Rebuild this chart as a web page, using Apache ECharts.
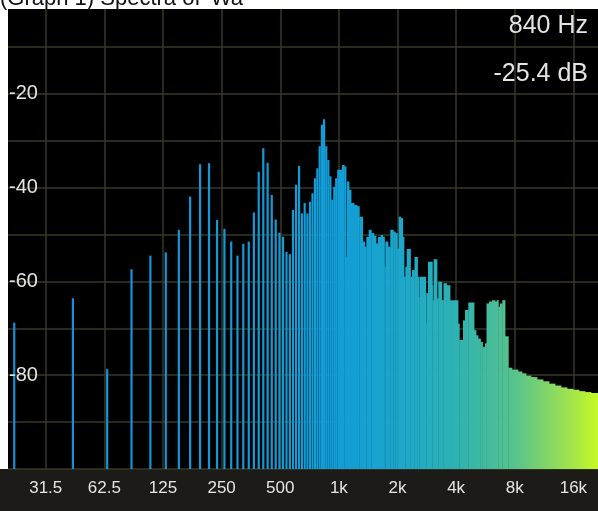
<!DOCTYPE html>
<html>
<head>
<meta charset="utf-8">
<script src="https://cdn.jsdelivr.net/npm/echarts@6/dist/echarts.min.js"></script>
<style>
  html, body { margin: 0; padding: 0; background: #ffffff; }
  #chart { width: 598px; height: 511px; }
</style>
</head>
<body>
<div id="chart"></div>
<script>
// FFT resolution: 44.1 kHz sample rate, 2048-point transform
const BIN_HZ = 44100 / 2048;

// Level of each low-frequency bin (bin 1, 2, 3, ...), in dB
const binLevels = [
  -68.8, -63.6, -78.7, -57.4, -54.5, -53.8, -49.0, -41.9, -35.0, -34.8,
  -46.9, -48.8, -51.5, -54.5, -52.0, -51.5, -45.3, -36.6, -31.6, -34.7,
  -41.6, -46.8, -49.6, -50.5, -53.7, -54.2, -44.8, -39.4, -35.4, -45.5,
  -43.3, -45.5, -43.0, -41.2, -38.0, -35.9, -31.2, -26.6, -25.4, -31.2,
  -34.1, -37.6, -42.6, -39.8, -38.0
];

// Above ~1 kHz the bins merge into a continuous band:
// band edges in Hz and the level of each band in dB
const bandEdgesHz = [
  980, 1037, 1066, 1088, 1098, 1127, 1154, 1196, 1239, 1273,
  1325, 1357, 1383, 1422, 1467, 1514, 1551, 1588, 1639, 1678,
  1714, 1731, 1787, 1836, 1902, 1948, 1995, 2028, 2077, 2126,
  2159, 2193, 2229, 2331, 2373, 2444, 2533, 2587, 2609, 2791,
  2810, 2868, 3017, 3042, 3067, 3189, 3239, 3372, 3444, 3577,
  3720, 4088, 4152, 4338, 4441, 4618, 4940, 5058, 5179, 5334,
  5462, 5626, 5727, 5898, 6111, 6332, 6460, 6584, 6718, 6903,
  7127, 7410, 7741, 8310, 8712, 9134, 9691, 10400, 11170, 11990,
  12870, 13820, 14830, 15920, 17090, 18350, 19700, 21400
];
const bandLevels = [
  -36.2, -35.2, -35.5, -54.7, -38.7, -40.5, -43.3, -43.7, -44.0, -46.2,
  -51.5, -52.6, -50.5, -49.0, -49.7, -50.3, -51.9, -50.5, -50.1, -50.5,
  -56.9, -51.5, -52.6, -49.0, -49.4, -49.7, -53.0, -46.2, -46.5, -50.5,
  -59.0, -56.9, -53.1, -59.0, -57.6, -54.8, -59.0, -63.3, -59.0, -68.9,
  -62.5, -55.8, -60.8, -64.0, -55.3, -63.6, -60.1, -64.0, -60.4, -60.8,
  -64.0, -69.0, -72.5, -68.3, -66.1, -64.5, -70.4, -71.5, -72.2, -72.9,
  -74.0, -73.2, -64.7, -64.3, -64.0, -64.3, -64.0, -65.4, -64.7, -64.0,
  -71.7, -78.4, -78.8, -79.2, -79.6, -80.1, -80.4, -80.9, -81.3, -81.8,
  -82.2, -82.6, -82.9, -83.1, -83.4, -83.6, -83.8
];

// Octave grid of the frequency axis
const octaveHz = [31.25, 62.5, 125, 250, 500, 1000, 2000, 4000, 8000, 16000];
const octaveLabels = ['31.5', '62.5', '125', '250', '500', '1k', '2k', '4k', '8k', '16k'];

const FREQ_MIN = 20, FREQ_MAX = 21400;
const DB_MIN = -100, DB_MAX = 0;
const titleText = "(Graph 1) Spectra of 'Wa'";

const GRID_COLOR = '#3a3726';
const TEXT_COLOR = '#e4e4e4';
const FONT = '"Liberation Sans", Arial, Helvetica, sans-serif';

// Colour ramp of the analyser, laid across the whole frequency range
const rampStops = [
  { offset: 0.00, color: '#168fd4' },
  { offset: 0.56, color: '#129dd6' },
  { offset: 0.66, color: '#1ba6cc' },
  { offset: 0.76, color: '#2eb2b2' },
  { offset: 0.86, color: '#58c38c' },
  { offset: 0.96, color: '#a6e648' },
  { offset: 1.00, color: '#c6fa22' }
];

function rampFill(api) {
  const x0 = api.coord([FREQ_MIN, DB_MIN])[0];
  const x1 = api.coord([FREQ_MAX, DB_MIN])[0];
  return new echarts.graphic.LinearGradient(x0, 0, x1, 0, rampStops, true);
}

// Peak bin gives the readout in the corner
let peakIdx = 0;
binLevels.forEach((v, i) => { if (v > binLevels[peakIdx]) peakIdx = i; });
const peakHz = Math.round((peakIdx + 1) * BIN_HZ);
const peakDb = binLevels[peakIdx];

const binData = binLevels.map((db, i) => [(i + 1) * BIN_HZ, db]);
const bandData = bandLevels.map((db, i) => [bandEdgesHz[i], bandEdgesHz[i + 1], db]);

const chart = echarts.init(document.getElementById('chart'), null, { renderer: 'canvas' });

chart.setOption({
  animation: false,
  backgroundColor: '#1c1b17',
  grid: {
    left: 8, right: 0, top: 0, bottom: 42,
    show: true, backgroundColor: '#000000', borderWidth: 0
  },
  xAxis: {
    type: 'log', logBase: 10, min: FREQ_MIN, max: FREQ_MAX,
    axisLine: { show: false }, axisTick: { show: false },
    axisLabel: { show: false }, splitLine: { show: false }
  },
  yAxis: [
    {
      type: 'value', min: DB_MIN, max: DB_MAX, interval: 10,
      axisLine: { show: false }, axisTick: { show: false },
      axisLabel: { show: false },
      splitLine: { show: true, lineStyle: { color: GRID_COLOR, width: 1.5 } }
    },
    {
      type: 'value', position: 'left', min: DB_MIN, max: DB_MAX, interval: 10, z: 10,
      axisLine: { show: false }, axisTick: { show: false },
      splitLine: { show: false },
      axisLabel: {
        inside: true, margin: 1, color: TEXT_COLOR, fontSize: 20, fontFamily: FONT,
        formatter: v => (v % 20 === 0 && v > DB_MIN && v < DB_MAX) ? String(v) : ''
      }
    }
  ],
  series: [
    {
      // octave grid lines and their labels
      type: 'line', data: [], z: 1, silent: true,
      markLine: {
        silent: true, z: 1, symbol: ['none', 'none'],
        lineStyle: { color: GRID_COLOR, width: 1.5, type: 'solid' },
        label: {
          show: true, position: 'start', distance: 11,
          color: TEXT_COLOR, fontSize: 17, fontFamily: FONT,
          formatter: '{b}'
        },
        data: octaveHz.map((hz, i) => ({ xAxis: hz, name: octaveLabels[i] }))
      }
    },
    {
      // individual low-frequency bins
      type: 'custom', z: 3, silent: true,
      data: binData,
      encode: { x: 0, y: 1 },
      renderItem: (params, api) => {
        const top = api.coord([api.value(0), api.value(1)]);
        const base = api.coord([api.value(0), DB_MIN]);
        return {
          type: 'rect',
          shape: { x: top[0] - 1.1, y: top[1], width: 2.2, height: base[1] - top[1] },
          style: { fill: rampFill(api) }
        };
      }
    },
    {
      // merged high-frequency bands
      type: 'custom', z: 3, silent: true,
      data: bandData,
      encode: { x: [0, 1], y: 2 },
      renderItem: (params, api) => {
        const a = api.coord([api.value(0), api.value(2)]);
        const b = api.coord([api.value(1), DB_MIN]);
        return {
          type: 'rect',
          shape: { x: a[0], y: a[1], width: b[0] - a[0] + 0.4, height: b[1] - a[1] },
          style: { fill: rampFill(api) }
        };
      }
    }
  ],
  graphic: [
    { type: 'rect', z: 100, shape: { x: 0, y: 0, width: 598, height: 9 }, style: { fill: '#ffffff' } },
    { type: 'rect', z: 100, shape: { x: 0, y: 0, width: 8, height: 469 }, style: { fill: '#ffffff' } },
    {
      type: 'text', z: 101, x: 0, y: -1,
      style: { text: titleText, fill: '#111111', font: '22px ' + FONT, textVerticalAlign: 'middle' }
    },
    {
      type: 'text', z: 101, x: 588, y: 26,
      style: { text: peakHz + ' Hz', fill: TEXT_COLOR, font: '25px ' + FONT, textAlign: 'right', textVerticalAlign: 'middle' }
    },
    {
      type: 'text', z: 101, x: 588, y: 74,
      style: { text: peakDb.toFixed(1) + ' dB', fill: TEXT_COLOR, font: '25px ' + FONT, textAlign: 'right', textVerticalAlign: 'middle' }
    }
  ]
});
</script>
</body>
</html>
